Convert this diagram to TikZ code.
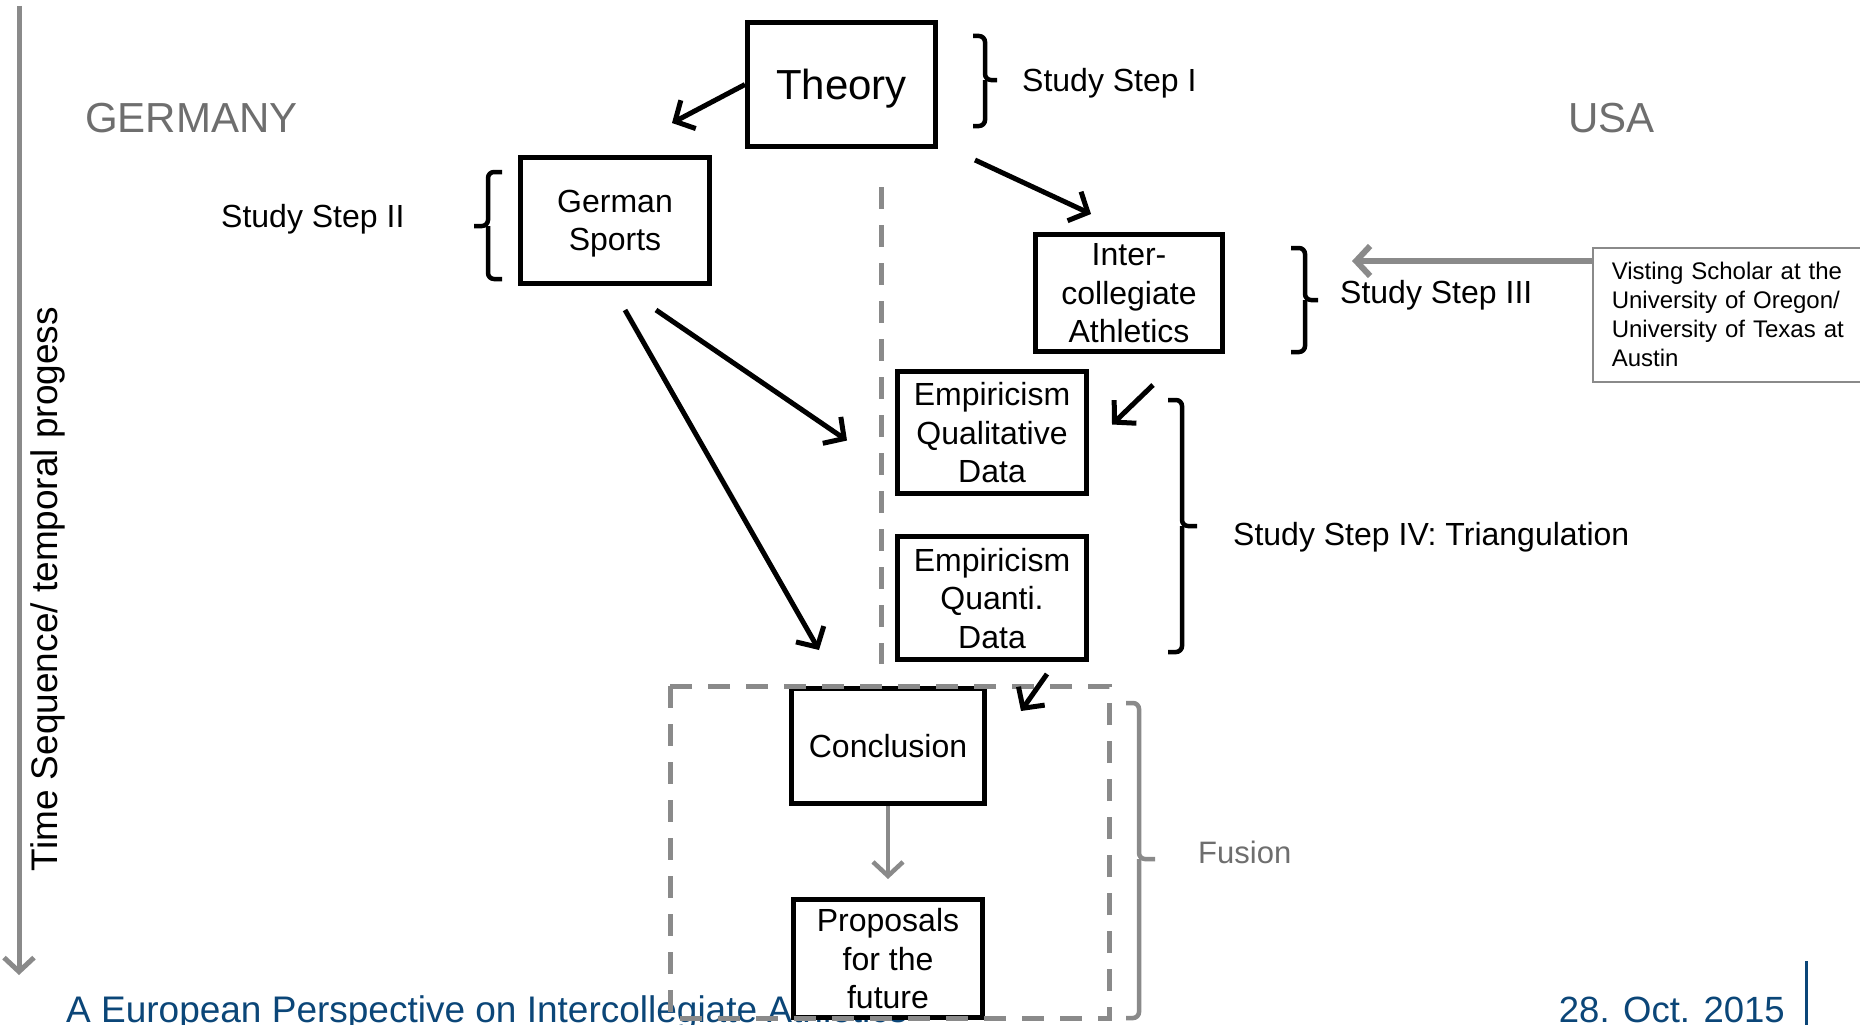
\documentclass[tikz,border=0pt]{standalone}
\usepackage{fontspec}
\setmainfont{Liberation Sans}
\usetikzlibrary{arrows.meta,calc}
\definecolor{lgray}{HTML}{8A8A8A}
\definecolor{tgray}{HTML}{6E6E6E}
\definecolor{fblue}{HTML}{0B4678}
\begin{document}
\begin{tikzpicture}[x=1pt,y=-1pt,
  box/.style={draw=black,line width=5pt,fill=white,align=center,inner sep=0pt,text depth=0pt,font=\fontsize{32}{38.5}\selectfont},
  arr/.style={draw=black,line width=5pt,-{Straight Barb[length=15pt,width=32pt]}},
  garr/.style={draw=lgray,line width=5pt,-{Straight Barb[length=14pt,width=30pt]}},
  brk/.style={line width=4.5pt,rounded corners=6pt},
  lbl/.style={anchor=west,inner sep=0pt,text depth=0pt,font=\fontsize{32}{38}\selectfont},
  big/.style={font=\fontsize{42}{50}\selectfont},
  ]
\useasboundingbox[fill=white] (0,0) rectangle (1860,1025);

% footer
\node[anchor=base west,inner sep=0pt,text=fblue,font=\fontsize{37}{44}\selectfont] (foot) at (66,1022) {A European Perspective on Intercollegiate Athletics};
\node[anchor=base east,inner sep=0pt,text=fblue,font=\fontsize{36.5}{44}\selectfont] (date) at (1785,1022) {28. Oct. 2015};
\draw[fblue,line width=3pt] (1806,961) -- (1806,1025);

% time axis
\coordinate (tt) at (19,6);
\coordinate (tb) at (19,975);
\draw[garr] (tt) -- (tb);
\node[rotate=90,inner sep=0pt,font=\fontsize{37}{44}\selectfont] (time) at (48,589) {Time Sequence/ temporal progess};

% headings
\node[lbl,big,text=tgray] (de) at (85,117.5) {GERMANY};
\node[lbl,big,text=tgray] (us) at (1568,117.5) {USA};

% dashed divider
\draw[lgray,line width=5pt,dash pattern=on 22pt off 16pt] (881,187) -- (881,664);

% boxes
\node[box,big,minimum width=188pt,minimum height=124pt] (theory) at (841.5,84.5) {Theory};
\node[box,minimum width=189pt,minimum height=126pt] (german) at (615,220.5) {German\\Sports};
\node[box,minimum width=187pt,minimum height=117pt] (inter) at (1129,293) {Inter-\\collegiate\\Athletics};
\node[box,minimum width=189pt,minimum height=122pt] (qual) at (992,432.5) {Empiricism\\Qualitative\\Data};
\node[box,minimum width=189pt,minimum height=123pt] (quanti) at (992,598) {Empiricism\\Quanti.\\Data};
\node[box,minimum width=193pt,minimum height=115pt] (conc) at (888,746) {Conclusion};
\node[box,minimum width=189pt,minimum height=118pt] (prop) at (888,958.5) {Proposals\\for the\\future};

% visiting scholar box
\node[draw=lgray,line width=1.5pt,anchor=north west,minimum height=134pt,text width=240pt,inner xsep=19pt,align=left,font=\fontsize{24}{29}\selectfont] (vis) at (1592,247) {Visting Scholar at the\\University of Oregon/\\University of Texas at\\Austin};
\coordinate (s3a) at (1352,261);
\draw[garr,line width=6pt] ([yshift=-14pt]vis.north west) -- (s3a);

% fusion frame
\draw[lgray,line width=5pt,dash pattern=on 22pt off 16pt] (670,686) rectangle (1109,1018);

% arrows
\draw[arr] (theory.west) -- ([shift={(57,-32)}]german.north);
\draw[arr] ([shift={(37,11)}]theory.south east) -- ([shift={(-38,-18)}]inter.north);
\draw[arr] ([shift={(41,24)}]german.south) -- ([shift={(-48,8)}]qual.west);
\draw[arr] ([shift={(10,24)}]german.south) -- ([shift={(-69,-36)}]conc.north);
\draw[arr] ([shift={(24,31)}]inter.south) -- ([shift={(23,-8)}]qual.east);
\draw[arr] ([shift={(55,12)}]quanti.south) -- ([shift={(34,25)}]conc.north east);
\draw[garr,line width=4.5pt] (conc.south) -- ([yshift=18pt]prop.north);

% brackets
\draw[brk] (973,36) -- (985,36) -- (985,80) -- (997,80);
\draw[brk] (985,80) -- (985,126) -- (973,126);
\draw[brk] (502,172) -- (488,172) -- (488,226) -- (474,226);
\draw[brk] (488,226) -- (488,279) -- (502,279);
\draw[brk] (1291,248) -- (1305,248) -- (1305,300) -- (1318,300);
\draw[brk] (1305,300) -- (1305,352) -- (1291,352);
\draw[brk] (1168,400) -- (1182,400) -- (1182,526) -- (1197,526);
\draw[brk] (1182,526) -- (1182,652) -- (1168,652);
\draw[brk,lgray] (1126,703) -- (1139,703) -- (1139,859) -- (1155,859);
\draw[brk,lgray] (1139,859) -- (1139,1018) -- (1126,1018);

% labels
\node[lbl] (s1) at (1022,80) {Study Step I};
\node[lbl] (s2) at (221,216) {Study Step II};
\node[lbl] (s3) at (1340,292) {Study Step III};
\node[lbl] (s4) at (1233,534) {Study Step IV: Triangulation};
\node[lbl,text=tgray,font=\fontsize{31}{37}\selectfont] (fus) at (1198,852) {Fusion};
\end{tikzpicture}
\end{document}
